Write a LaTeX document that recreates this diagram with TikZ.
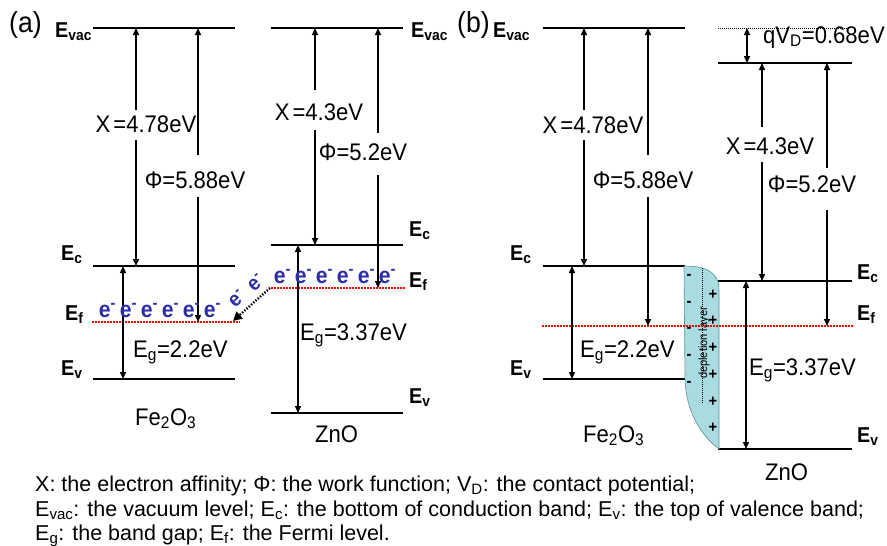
\documentclass[tikz,border=0pt]{standalone}
\usepackage{fontspec}
\setmainfont{Liberation Sans}[FakeStretch=0.92]
\newfontfamily\capfont{Liberation Sans}
\usetikzlibrary{arrows.meta}
\definecolor{eblue}{RGB}{45,45,165}
\definecolor{deplfill}{RGB}{168,220,224}
\definecolor{deplline}{RGB}{95,145,150}
\newcommand{\Elab}[1]{\textbf{E}\textsubscript{\textbf{#1}}}
\newcommand{\chisym}{Χ\hspace{3pt}}
\begin{document}
\begin{tikzpicture}[x=1pt,y=-1pt,
 level/.style={line width=2.9pt},
 fermi/.style={draw=red, line width=2.2pt, dash pattern=on 1.5pt off 1.5pt},
 vdots/.style={line width=0.9pt, dash pattern=on 1pt off 1pt},
 tipd/.style={line width=1.4pt,-{Triangle[length=7pt,width=6pt]}},
 dbl/.style={line width=1.4pt,{Triangle[length=7pt,width=6pt]}-{Triangle[length=7pt,width=6pt]}},
 lbl/.style={font=\fontsize{24}{28}\selectfont, inner sep=0pt},
 blbl/.style={font=\fontsize{24}{28}\selectfont, inner sep=0pt, anchor=base west},
 elbl/.style={font=\fontsize{21.5}{24}\selectfont, inner sep=0pt, anchor=base west},
 elec/.style={font=\fontsize{23}{26}\selectfont\bfseries, text=eblue, inner sep=0pt},
 pm/.style={font=\fontsize{16}{18}\selectfont\bfseries, inner sep=0pt},
 captext/.style={font=\capfont\fontsize{21.5}{24}\selectfont, inner sep=0pt, anchor=base west},
 ]
\fill[white] (0,0) rectangle (887,546);
\useasboundingbox (0,0) rectangle (887,546);

% ================= panel (a) =================
\node[font=\fontsize{29}{32}\selectfont, inner sep=0pt, anchor=west] (la) at (9,25) {(a)};
% Fe2O3 levels
\coordinate (aFvacL) at (93,28);  \coordinate (aFvacR) at (235,28);
\coordinate (aFcL) at (93,266);   \coordinate (aFcR) at (235,266);
\coordinate (aFvL) at (93,379);   \coordinate (aFvR) at (235,379);
\coordinate (aFfL) at (92,322);   \coordinate (aFfR) at (240,322);
\draw[level] (aFvacL) -- (aFvacR);
\draw[level] (aFcL) -- (aFcR);
\draw[level] (aFvL) -- (aFvR);
\draw[fermi] (aFfL) -- (aFfR);
% ZnO levels
\coordinate (aZvacL) at (271,28);  \coordinate (aZvacR) at (403,28);
\coordinate (aZcL) at (271,245);   \coordinate (aZcR) at (403,245);
\coordinate (aZvL) at (271,413);   \coordinate (aZvR) at (403,413);
\coordinate (aZfL) at (271,288);   \coordinate (aZfR) at (405,288);
\draw[level] (aZvacL) -- (aZvacR);
\draw[level] (aZcL) -- (aZcR);
\draw[level] (aZvL) -- (aZvR);
\draw[fermi] (aZfL) -- (aZfR);

% arrows Fe2O3 (a)
\draw[tipd] (136,110) -- (136,28);  \draw[tipd] (136,140) -- (136,266);
\draw[tipd] (198,155) -- (198,28);  \draw[tipd] (198,197) -- (198,322);
\draw[dbl] (123,266) -- (123,379);
% arrows ZnO (a)
\draw[tipd] (315,90) -- (315,28);   \draw[tipd] (315,130) -- (315,245);
\draw[tipd] (378,133) -- (378,28);  \draw[tipd] (378,175) -- (378,288);
\draw[dbl] (298,245) -- (298,413);

% labels (a)
\node[lbl] (achi1) at (146,124) {\chisym=4.78eV};
\node[lbl] (aphi1) at (195,180) {Φ=5.88eV};
\node[lbl] (achi2) at (319,112) {\chisym=4.3eV};
\node[lbl] (aphi2) at (363,152) {Φ=5.2eV};
\node[blbl] (aeg1) at (133,357) {E\textsubscript{g}=2.2eV};
\node[blbl] (aeg2) at (300,340) {E\textsubscript{g}=3.37eV};
\node[blbl] (afe) at (135,425) {Fe\textsubscript{2}O\textsubscript{3}};
\node[blbl] (azno) at (315,442) {ZnO};
\node[elbl] (aEvac1) at (55,37) {\Elab{vac}};
\node[elbl] (aEvac2) at (411,37) {\Elab{vac}};
\node[elbl] (aEc1) at (61,260) {\Elab{c}};
\node[elbl] (aEf1) at (65,320) {\Elab{f}};
\node[elbl] (aEv1) at (61,375) {\Elab{v}};
\node[elbl] (aEc2) at (409,236) {\Elab{c}};
\node[elbl] (aEf2) at (409,287) {\Elab{f}};
\node[elbl] (aEv2) at (409,403) {\Elab{v}};
% electrons
\foreach \i in {0,...,5} {
  \node[elec] (ea\i) at (107.5+\i*21,311) {e\textsuperscript{-}};
  \node[elec] (eb\i) at (282.5+\i*21,277) {e\textsuperscript{-}};
}
\coordinate (trS) at (270,288);
\coordinate (trE) at (233,321);
\draw[line width=2.4pt, dash pattern=on 1.4pt off 1.6pt, -{Triangle[length=9pt,width=9pt]}] (trS) -- (trE);
\node[elec, font=\fontsize{21}{24}\selectfont\bfseries, rotate=42] (etr1) at (237,299) {e\textsuperscript{-}};
\node[elec, font=\fontsize{21}{24}\selectfont\bfseries, rotate=42] (etr2) at (256,283) {e\textsuperscript{-}};

% ================= panel (b) =================
\node[font=\fontsize{29}{32}\selectfont, inner sep=0pt, anchor=west] (lb) at (457,25) {(b)};
% Fe2O3
\coordinate (bFvacL) at (543,28);  \coordinate (bFvacR) at (685,28);
\coordinate (bFcL) at (543,266);   \coordinate (bFcR) at (685,266);
\coordinate (bFvL) at (543,379);   \coordinate (bFvR) at (685,379);
\draw[level] (bFvacL) -- (bFvacR);
\draw[level] (bFcL) -- (bFcR);
\draw[level] (bFvL) -- (bFvR);
% ZnO
\coordinate (bZtopL) at (718,28);  \coordinate (bZtopR) at (850,28);
\coordinate (bZvacL) at (718,63);  \coordinate (bZvacR) at (852,63);
\coordinate (bZcL) at (718,281);   \coordinate (bZcR) at (852,281);
\coordinate (bZvL) at (718,449);   \coordinate (bZvR) at (852,449);
\draw[vdots] (bZtopL) -- (bZtopR);
\draw[level] (bZvacL) -- (bZvacR);
\draw[level] (bZcL) -- (bZcR);
\draw[level] (bZvL) -- (bZvR);
% depletion layer
\filldraw[fill=deplfill, draw=deplline, line width=0.6pt]
  (684,266) .. controls (706,266) and (719,272) .. (719,290) -- (719,449)
  .. controls (700,435) and (686,410) .. (685,380) -- cycle;
\draw[vdots, line width=0.7pt] (702,268) -- (702,404);
\node[font=\fontsize{12}{13}\selectfont, inner sep=0pt, rotate=90] (dep) at (704,343) {depletion layer};
\foreach \yy [count=\k] in {277,304,330,357,384} \node[pm] (mi\k) at (689,\yy) {-};
\foreach \yy [count=\k] in {295,321,348,375,402,428} \node[pm] (pl\k) at (713,\yy) {+};
% Fermi level
\coordinate (bfL) at (542,326); \coordinate (bfR) at (853,326);
\draw[fermi] (bfL) -- (bfR);

% arrows (b)
\draw[tipd] (584,110) -- (584,28);  \draw[tipd] (584,140) -- (584,266);
\draw[tipd] (648,155) -- (648,28);  \draw[tipd] (648,197) -- (648,326);
\draw[dbl] (572,266) -- (572,379);
\draw[dbl] (747,28) -- (747,63);
\draw[tipd] (762,127) -- (762,63);  \draw[tipd] (762,162) -- (762,281);
\draw[tipd] (827,168) -- (827,63);  \draw[tipd] (827,210) -- (827,326);
\draw[dbl] (746,281) -- (746,449);

% labels (b)
\node[lbl] (bchi1) at (593,125) {\chisym=4.78eV};
\node[lbl] (bphi1) at (643,180) {Φ=5.88eV};
\node[lbl] (bchi2) at (770,146) {\chisym=4.3eV};
\node[lbl] (bphi2) at (812,184) {Φ=5.2eV};
\node[blbl] (bqv) at (763,43) {qV\textsubscript{D}=0.68eV};
\node[blbl] (beg1) at (580,357) {E\textsubscript{g}=2.2eV};
\node[blbl] (beg2) at (749,375) {E\textsubscript{g}=3.37eV};
\node[blbl] (bfe) at (583,442) {Fe\textsubscript{2}O\textsubscript{3}};
\node[blbl] (bzno) at (765,480) {ZnO};
\node[elbl] (bEvac1) at (493,37) {\Elab{vac}};
\node[elbl] (bEc1) at (510,260) {\Elab{c}};
\node[elbl] (bEv1) at (510,375) {\Elab{v}};
\node[elbl] (bEc2) at (857,279) {\Elab{c}};
\node[elbl] (bEf2) at (857,320) {\Elab{f}};
\node[elbl] (bEv2) at (857,442) {\Elab{v}};

% caption
\node[captext] (c1) at (35,491) {Χ: the electron affinity; Φ: the work function; V\textsubscript{D}: the contact potential;};
\node[captext] (c2) at (35,516) {E\textsubscript{vac}: the vacuum level; E\textsubscript{c}: the bottom of conduction band; E\textsubscript{v}: the top of valence band;};
\node[captext] (c3) at (35,540) {E\textsubscript{g}: the band gap; E\textsubscript{f}: the Fermi level.};
\end{tikzpicture}
\end{document}
